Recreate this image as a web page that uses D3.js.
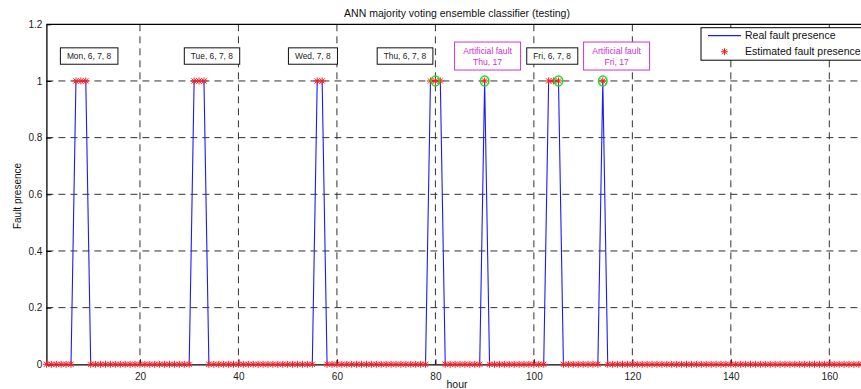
<!DOCTYPE html>
<html>
<head>
<meta charset="utf-8">
<script src="https://cdn.jsdelivr.net/npm/d3@7"></script>
<style>
body { margin: 0; background: #fff; }
text { font-family: "Liberation Sans", Arial, Helvetica, sans-serif; }
</style>
</head>
<body>
<svg id="chart" width="861" height="389"></svg>
<script>
// data
const hourRange = [1, 168];
const realFaultHours = [7, 8, 9, 31, 32, 33, 56, 57, 79, 80, 81, 90, 103, 104, 105, 114];
const estimatedFaultHours = [7, 8, 9, 31, 32, 33, 56, 57, 79, 80, 81, 90, 103, 104, 105, 114];
const circledHours = [80, 90, 105, 114];
const xTicks = [20, 40, 60, 80, 100, 120, 140, 160];
const yTicks = [0, 0.2, 0.4, 0.6, 0.8, 1, 1.2];
const yTickLabels = ["0", "0.2", "0.4", "0.6", "0.8", "1", "1.2"];
const dayLabels = ["Mon, 6, 7, 8", "Tue, 6, 7, 8", "Wed, 7, 8", "Thu, 6, 7, 8", "Fri, 6, 7, 8"];
const dayLabelHours = [9.65, 34.6, 55.1, 73.8, 103.7];
const artificialLabels = [["Artificial fault", "Thu, 17"], ["Artificial fault", "Fri, 17"]];
const artificialHours = [90.6, 116.8];
const labelLevel = 1.088;

const hours = d3.range(hourRange[0], hourRange[1] + 1);
const real = hours.map(h => ({ h: h, v: realFaultHours.includes(h) ? 1 : 0 }));
const est = hours.map(h => ({ h: h, v: estimatedFaultHours.includes(h) ? 1 : 0 }));

var svg = d3.select("#chart");
var x = d3.scaleLinear().domain(hourRange).range([46.4, 868.7]);
var y = d3.scaleLinear().domain([0, 1.2]).range([364.3, 24.3]);
var plotTop = y(1.2), plotBottom = y(0), plotLeft = x(hourRange[0]), plotRight = x(hourRange[1]);

// grid
svg.append("g").selectAll("line").data(xTicks).enter().append("line")
    .attr("x1", d => x(d)).attr("x2", d => x(d))
    .attr("y1", plotTop).attr("y2", plotBottom)
    .attr("stroke", "#333").attr("stroke-dasharray", "7,5");
svg.append("g").selectAll("line").data(yTicks.filter(d => d > 0 && d < 1.2)).enter().append("line")
    .attr("x1", plotLeft).attr("x2", plotRight)
    .attr("y1", d => y(d)).attr("y2", d => y(d))
    .attr("stroke", "#333").attr("stroke-dasharray", "7,5");

// axes frame + ticks
var xAxis = svg.append("g").attr("transform", "translate(0," + plotBottom + ")")
    .call(d3.axisBottom(x).tickValues(xTicks).tickSizeInner(-5).tickSizeOuter(0).tickPadding(9));
var yAxis = svg.append("g").attr("transform", "translate(" + plotLeft + ",0)")
    .call(d3.axisLeft(y).tickValues(yTicks).tickFormat((d, i) => yTickLabels[i]).tickSizeInner(-5).tickSizeOuter(0).tickPadding(4));
[xAxis, yAxis].forEach(a => {
    a.selectAll("text").attr("font-size", 10).attr("fill", "#222")
        .style("font-family", '"Liberation Sans", Arial, sans-serif');
    a.selectAll("line").attr("stroke", "#000");
    a.select(".domain").attr("stroke", "#000").attr("stroke-width", 1.3);
});
svg.append("line").attr("x1", plotLeft).attr("x2", plotRight).attr("y1", plotTop).attr("y2", plotTop)
    .attr("stroke", "#000").attr("stroke-width", 1.3);

// real fault line
svg.append("path").datum(real)
    .attr("d", d3.line().x(d => x(d.h)).y(d => y(d.v)))
    .attr("fill", "none").attr("stroke", "#1a1aff").attr("stroke-width", 1.1);

// estimated markers
var star = "M-3.5,0H3.5M0,-3.5V3.5M-2.6,-2.6L2.6,2.6M-2.6,2.6L2.6,-2.6";
svg.append("g").selectAll("path").data(est).enter().append("path")
    .attr("d", star)
    .attr("transform", d => "translate(" + x(d.h) + "," + y(d.v) + ")")
    .attr("fill", "none").attr("stroke", "#ff1a1a").attr("stroke-width", 1);

// green circles
svg.append("g").selectAll("ellipse").data(circledHours).enter().append("ellipse")
    .attr("cx", d => x(d)).attr("cy", y(1))
    .attr("rx", 4.2).attr("ry", 5)
    .attr("fill", "none").attr("stroke", "#19e019").attr("stroke-width", 1.6);

// day labels
dayLabels.forEach((t, i) => {
    var g = svg.append("g").attr("transform", "translate(" + x(dayLabelHours[i]) + "," + y(labelLevel) + ")");
    var rect = g.append("rect");
    var txt = g.append("text").attr("text-anchor", "middle").attr("dy", "0.35em")
        .attr("font-size", 8.4).attr("fill", "#222").text(t);
    var b = txt.node().getBBox();
    rect.attr("x", b.x - 6.5).attr("y", -8.2).attr("width", b.width + 13).attr("height", 16.4)
        .attr("fill", "#fff").attr("stroke", "#111").attr("stroke-width", 1);
});

// artificial fault labels
artificialLabels.forEach((lines, i) => {
    var g = svg.append("g").attr("transform", "translate(" + x(artificialHours[i]) + "," + y(labelLevel) + ")");
    g.append("rect").attr("x", -33).attr("y", -14).attr("width", 66).attr("height", 28)
        .attr("fill", "#fff").attr("stroke", "#cc33cc").attr("stroke-width", 1);
    var txt = g.append("text").attr("text-anchor", "middle").attr("font-size", 8.6).attr("fill", "#d02cd0");
    lines.forEach((l, j) => txt.append("tspan").attr("x", 0).attr("y", j === 0 ? -5.3 : 5.9).attr("dy", "0.35em").text(l));
});

// legend
var lg = svg.append("g").attr("transform", "translate(701,27.7)");
lg.append("rect").attr("width", 172).attr("height", 32.5)
    .attr("fill", "#fff").attr("stroke", "#000").attr("stroke-width", 1);
lg.append("line").attr("x1", 7).attr("x2", 40).attr("y1", 8).attr("y2", 8)
    .attr("stroke", "#1a1aff").attr("stroke-width", 1.3);
lg.append("text").attr("x", 44).attr("y", 8).attr("dy", "0.35em").attr("font-size", 10.5).attr("fill", "#111")
    .text("Real fault presence");
lg.append("path").attr("d", star).attr("transform", "translate(23.5,24)")
    .attr("fill", "none").attr("stroke", "#ff1a1a");
lg.append("text").attr("x", 44).attr("y", 24).attr("dy", "0.35em").attr("font-size", 10.5).attr("fill", "#111")
    .text("Estimated fault presence");

// title and axis labels
svg.append("text").attr("x", 457).attr("y", 16.5).attr("text-anchor", "middle")
    .attr("font-size", 10.5).attr("fill", "#111").text("ANN majority voting ensemble classifier (testing)");
svg.append("text").attr("x", 457).attr("y", 388).attr("text-anchor", "middle")
    .attr("font-size", 10.5).attr("fill", "#111").text("hour");
svg.append("text").attr("transform", "translate(20.5,196) rotate(-90)").attr("text-anchor", "middle")
    .attr("font-size", 10).attr("fill", "#111").text("Fault presence");
</script>
</body>
</html>
